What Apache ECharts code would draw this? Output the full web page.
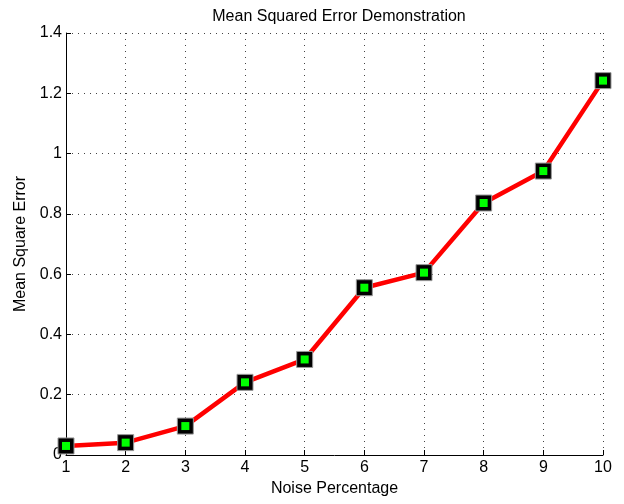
<!DOCTYPE html>
<html>
<head>
<meta charset="utf-8">
<script src="https://cdn.jsdelivr.net/npm/echarts@6/dist/echarts.min.js"></script>
<style>html,body{margin:0;padding:0;background:#fff;}#c{width:624px;height:504px;}</style>
</head>
<body>
<div id="c"></div>
<script>
var noisePct = [1, 2, 3, 4, 5, 6, 7, 8, 9, 10];
var mse = [0.030, 0.041, 0.096, 0.241, 0.317, 0.555, 0.605, 0.836, 0.942, 1.242];
var titleText = 'Mean Squared Error Demonstration';
var xName = 'Noise Percentage';
var yName = 'Mean Square Error';

var pts = noisePct.map(function (x, i) { return [x, mse[i]]; });
var font = 'Liberation Sans, Arial, sans-serif';
var chart = echarts.init(document.getElementById('c'));
chart.setOption({
  animation: false,
  backgroundColor: '#fff',
  title: {
    text: titleText, left: 334, top: 4, textAlign: 'center',
    textStyle: { fontFamily: font, fontSize: 16, fontWeight: 'normal', color: '#000' }
  },
  grid: { left: 66, right: 21, top: 33, bottom: 49 },
  xAxis: {
    type: 'value', min: 1, max: 10, interval: 1,
    name: xName, nameLocation: 'middle', nameGap: 24,
    nameTextStyle: { fontFamily: font, fontSize: 16, color: '#000' },
    axisLine: { show: true, onZero: false, lineStyle: { color: '#000', width: 1 } },
    axisTick: { show: true, inside: true, length: 5, lineStyle: { color: '#000' } },
    axisLabel: { fontFamily: font, fontSize: 16, color: '#000', margin: 5 },
    splitLine: { show: true, lineStyle: { color: '#444', type: [1, 5], width: 1 } }
  },
  yAxis: {
    type: 'value', min: 0, max: 1.4, interval: 0.2,
    name: yName, nameLocation: 'middle', nameGap: 35,
    nameTextStyle: { fontFamily: font, fontSize: 16, color: '#000' },
    axisLine: { show: true, lineStyle: { color: '#000', width: 1 } },
    axisTick: { show: true, inside: true, length: 5, lineStyle: { color: '#000' } },
    axisLabel: { fontFamily: font, fontSize: 16, color: '#000', margin: 4,
      formatter: function (v) { return String(Math.round(v * 10) / 10); } },
    splitLine: { show: true, lineStyle: { color: '#444', type: [1, 5], width: 1 } }
  },
  series: [
    {
      type: 'line', data: pts,
      lineStyle: { color: '#ff0000', width: 4.5 },
      symbol: 'rect', symbolSize: 16,
      itemStyle: { color: '#000', borderColor: '#999', borderWidth: 1 },
      z: 2
    },
    {
      type: 'line', data: pts,
      lineStyle: { width: 0, opacity: 0 },
      symbol: 'rect', symbolSize: 8,
      itemStyle: { color: '#00ff00' },
      z: 3
    }
  ]
});
</script>
</body>
</html>
